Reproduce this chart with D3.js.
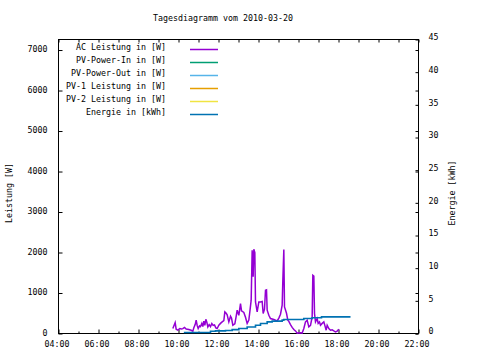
<!DOCTYPE html>
<html>
<head>
<meta charset="utf-8">
<script src="https://cdn.jsdelivr.net/npm/d3@7"></script>
<style>
	body { margin: 0; background: #fff; }
	svg { display: block; font-family: 'DejaVu Sans Mono', monospace; font-size: 8.3px; }
</style>
</head>
<body>
<div id="chart"></div>
<script>
const acTimes = ['09:43', '09:50', '09:53', '09:58', '10:04', '10:09', '10:13', '10:18', '10:23', '10:31', '10:38', '10:43', '10:46', '10:50', '10:53', '10:56', '10:59', '11:03', '11:06', '11:10', '11:13', '11:16', '11:19', '11:22', '11:25', '11:28', '11:32', '11:36', '11:40', '11:44', '11:48', '11:52', '11:56', '12:01', '12:06', '12:11', '12:16', '12:19', '12:23', '12:26', '12:31', '12:36', '12:39', '12:43', '12:49', '12:53', '12:56', '13:01', '13:06', '13:09', '13:16', '13:21', '13:26', '13:31', '13:34', '13:38', '13:41', '13:44', '13:46', '13:49', '13:51', '13:56', '14:01', '14:06', '14:11', '14:14', '14:18', '14:21', '14:24', '14:26', '14:31', '14:36', '14:46', '14:56', '15:01', '15:06', '15:11', '15:13', '15:16', '15:18', '15:21', '15:24', '15:28', '15:31', '15:36', '15:41', '15:46', '15:51', '15:56', '16:06', '16:11', '16:16', '16:21', '16:26', '16:31', '16:36', '16:41', '16:43', '16:46', '16:48', '16:51', '16:56', '16:59', '17:03', '17:06', '17:11', '17:16', '17:19', '17:23', '17:26', '17:31', '17:36', '17:41', '17:46', '17:51', '17:56', '18:01']
const acValues = [123, 270, 106, 82, 123, 110, 120, 150, 110, 100, 80, 57, 140, 220, 330, 200, 123, 190, 170, 247, 170, 303, 200, 350, 280, 163, 220, 170, 247, 200, 210, 140, 123, 205, 250, 287, 320, 535, 500, 460, 287, 428, 380, 205, 240, 420, 575, 450, 740, 560, 520, 400, 247, 330, 535, 823, 2057, 1400, 2080, 2000, 780, 535, 780, 780, 790, 494, 600, 1070, 1080, 575, 450, 370, 345, 310, 380, 476, 700, 1316, 2075, 657, 580, 500, 330, 300, 220, 150, 100, 64, 10, 20, 10, 123, 287, 330, 163, 200, 412, 1440, 1420, 494, 287, 370, 250, 287, 205, 250, 287, 200, 82, 205, 123, 80, 90, 64, 40, 60, 106]

const energyTimes = ['10:16', '11:36', '11:51', '12:21', '12:41', '13:01', '13:26', '13:51', '14:06', '14:26', '14:41', '15:11', '15:16', '16:16', '16:41', '17:09', '18:36']
const energyValues = [0.15, 0.35, 0.4, 0.45, 0.6, 0.76, 1.0, 1.27, 1.53, 1.78, 1.9, 2.04, 2.14, 2.3, 2.4, 2.55, 2.55]

const legendLabels = ['AC Leistung in [W]', 'PV-Power-In in [W]', 'PV-Power-Out in [W]', 'PV-1 Leistung in [W]', 'PV-2 Leistung in [W]', 'Energie in [kWh]']
const legendColors = ['#9400d3', '#009e73', '#56b4e9', '#e69f00', '#f0e442', '#0072b2']

const xTickLabels = ['04:00', '06:00', '08:00', '10:00', '12:00', '14:00', '16:00', '18:00', '20:00', '22:00']
const xMinorLabels = ['05:00', '07:00', '09:00', '11:00', '13:00', '15:00', '17:00', '19:00', '21:00']
const yTicks = [0, 1000, 2000, 3000, 4000, 5000, 6000, 7000]
const y2Ticks = [0, 5, 10, 15, 20, 25, 30, 35, 40, 45]

const title = 'Tagesdiagramm vom 2010-03-20'
const yTitle = 'Leistung [W]'
const y2Title = 'Energie [kWh]'

const width = 480
const height = 360
const margins = { top: 39.5, left: 58.5, right: 61.5, bottom: 26.5 }
const innerWidth = width - margins.left - margins.right
const innerHeight = height - margins.top - margins.bottom

const parseTime = d3.timeParse('%H:%M')

const svg = d3.select('#chart')
	.append('svg')
	.attr('width', width)
	.attr('height', height)

const x = d3.scaleTime()
	.domain([parseTime('04:00'), parseTime('22:00')])
	.range([0, innerWidth])

const y = d3.scaleLinear()
	.domain([0, 7260])
	.range([innerHeight, 0])

const y2 = d3.scaleLinear()
	.domain([0, 45])
	.range([innerHeight, 0])

const g = svg.append('g')
	.attr('transform', `translate(${margins.left}, ${margins.top})`)

// ticks all point into the plot
const styleAxis = (sel) => {
	sel.attr('font-size', null).attr('font-family', null)
	sel.select('.domain').remove()
	sel.selectAll('line').attr('stroke', '#000')
	sel.selectAll('text').attr('fill', '#000')
}

g.append('g')
	.attr('transform', `translate(0, ${innerHeight})`)
	.call(d3.axisBottom(x).tickValues(xTickLabels.map(parseTime)).tickFormat(d3.timeFormat('%H:%M')).tickSize(-4).tickPadding(8))
	.call(styleAxis)
	.selectAll('text').attr('dx', '-2')

g.append('g')
	.attr('transform', `translate(0, ${innerHeight})`)
	.call(d3.axisBottom(x).tickValues(xMinorLabels.map(parseTime)).tickFormat('').tickSize(-2))
	.call(styleAxis)

g.append('g')
	.call(d3.axisTop(x).tickValues(xTickLabels.concat(xMinorLabels).map(parseTime)).tickFormat('').tickSize(-3))
	.call(styleAxis)

g.append('g')
	.call(d3.axisLeft(y).tickValues(yTicks).tickFormat(d3.format('d')).tickSize(-4).tickPadding(11))
	.call(styleAxis)
	.selectAll('text').attr('dy', '0.2em')

g.append('g')
	.attr('transform', `translate(${innerWidth}, 0)`)
	.call(d3.axisRight(y).tickValues(yTicks).tickFormat('').tickSize(-3))
	.call(styleAxis)

g.append('g')
	.attr('transform', `translate(${innerWidth}, 0)`)
	.call(d3.axisRight(y2).tickValues(y2Ticks).tickFormat(d3.format('d')).tickSize(-3).tickPadding(10))
	.call(styleAxis)
	.selectAll('text').attr('dy', '0.05em')

g.append('rect')
	.attr('width', innerWidth)
	.attr('height', innerHeight)
	.attr('fill', 'none')
	.attr('stroke', '#000')

const acLine = d3.line()
	.x((d) => x(parseTime(d[0])))
	.y((d) => y(d[1]))

g.append('path')
	.datum(d3.zip(acTimes, acValues))
	.attr('d', acLine)
	.attr('fill', 'none')
	.attr('stroke', legendColors[0])
	.attr('stroke-width', 1.5)

const energyLine = d3.line()
	.x((d) => x(parseTime(d[0])))
	.y((d) => y2(d[1]))
	.curve(d3.curveStepAfter)

g.append('path')
	.datum(d3.zip(energyTimes, energyValues))
	.attr('d', energyLine)
	.attr('fill', 'none')
	.attr('stroke', legendColors[5])
	.attr('stroke-width', 1.6)

const legend = svg.append('g')
	.attr('class', 'legend')
	.selectAll('g')
	.data(legendLabels)
	.enter()
	.append('g')
	.attr('transform', (_, i) => `translate(0, ${49.5 + i * 13})`)

legend.append('text')
	.text((d) => d)
	.attr('x', 166)
	.attr('y', 0)
	.attr('dy', '0.1em')
	.attr('text-anchor', 'end')

legend.append('line')
	.attr('x1', 190)
	.attr('x2', 218)
	.attr('stroke', (_, i) => legendColors[i])
	.attr('stroke-width', 1.5)

svg.append('text')
	.text(title)
	.attr('x', 223)
	.attr('y', 21)
	.attr('text-anchor', 'middle')

svg.append('text')
	.text(yTitle)
	.attr('transform', 'translate(12, 193) rotate(-90)')
	.attr('text-anchor', 'middle')

svg.append('text')
	.text(y2Title)
	.attr('transform', 'translate(455, 193) rotate(-90)')
	.attr('text-anchor', 'middle')
</script>
</body>
</html>
